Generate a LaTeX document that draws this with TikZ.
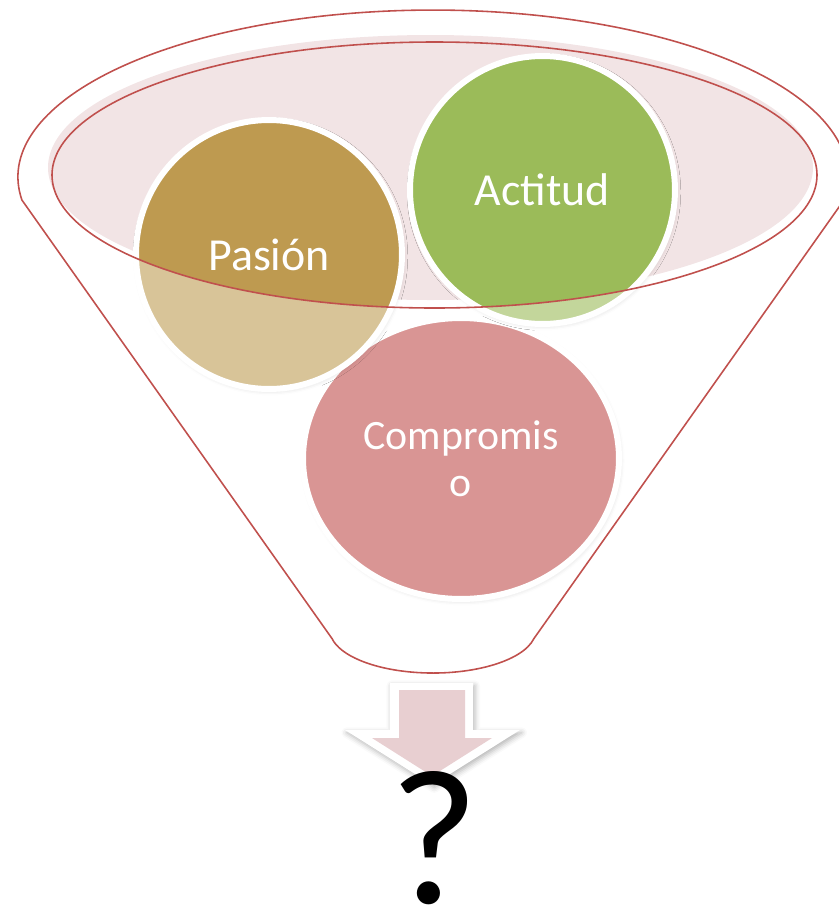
\documentclass[tikz,border=0pt]{standalone}
\usepackage{fontspec}
\setmainfont{Carlito}
\usetikzlibrary{shapes.geometric}
\usetikzlibrary{shadows.blur}
\definecolor{funnelred}{RGB}{192,80,77}
\definecolor{rimpink}{RGB}{242,228,229}
\definecolor{pasiondark}{RGB}{190,154,80}
\definecolor{pasionlight}{RGB}{216,196,152}
\definecolor{actituddark}{RGB}{155,187,89}
\definecolor{actitudlight}{RGB}{195,214,155}
\definecolor{compromisopink}{RGB}{217,149,148}
\definecolor{arrowpink}{RGB}{232,207,209}
\tikzstyle{funnelline} = [draw=funnelred, line width=0.9pt]
\tikzstyle{ball} = [ellipse, draw=white, line width=3.4pt, inner sep=0pt, text=white, align=center,
  font=\fontsize{26.1}{31}\selectfont,
  blur shadow={shadow xshift=0.8pt, shadow yshift=-1.2pt, shadow opacity=15, shadow blur radius=2.5pt}]
\tikzstyle{rimshade} = [path picture={\fill[#1] (rim) ellipse [x radius=382.5, y radius=133];}]
\tikzstyle{arrowback} = [fill=white,
  blur shadow={shadow xshift=1pt, shadow yshift=-1.5pt, shadow opacity=30, shadow blur radius=3pt}]
\tikzstyle{arrowface} = [fill=arrowpink]
\tikzstyle{qmark} = [inner sep=0pt, font=\fontsize{110}{120}\selectfont]

\begin{document}
\begin{tikzpicture}[x=0.02cm, y=-0.02cm]
\useasboundingbox (0,0) rectangle (839,907);
\clip (0,0) rectangle (839,907);

% funnel
\draw[funnelline] (21.9,200) arc [start angle=172.1, end angle=367.9, x radius=415, y radius=167]
  -- (533.9,638.6) arc [start angle=11.5, end angle=168.5, x radius=103, y radius=43] -- cycle;
\fill[rimpink] (430.5,167.5) ellipse [x radius=382.5, y radius=132.5];
\coordinate (rim) at (434.5,175);

\node[ball, fill=compromisopink, minimum width=6.32cm, minimum height=5.62cm,
  font=\fontsize{23.8}{26.6}\selectfont] (compromiso) at (461,458.5) {Compromis\\o};
\node[ball, fill=pasionlight, rimshade=pasiondark, minimum width=5.32cm, minimum height=5.38cm] (pasion) at (269,254.5) {Pasión};
\node[ball, fill=actitudlight, rimshade=actituddark, minimum width=5.30cm, minimum height=5.36cm] (actitud) at (542.5,190) {Actitud};

\draw[funnelline] (rim) ellipse [x radius=382.5, y radius=133];

% arrow down
\path[arrowback] (390,683) -- (473,683) -- (473,730) -- (520,730) -- (432.5,785)
  -- (345,730) -- (390,730) -- cycle;
\path[arrowface] (399,690) -- (465,690) -- (465,738) -- (492,738) -- (432,776)
  -- (372,738) -- (399,738) -- cycle;
\node[qmark, anchor=base] (result) at (434,903) {?};
\end{tikzpicture}
\end{document}
